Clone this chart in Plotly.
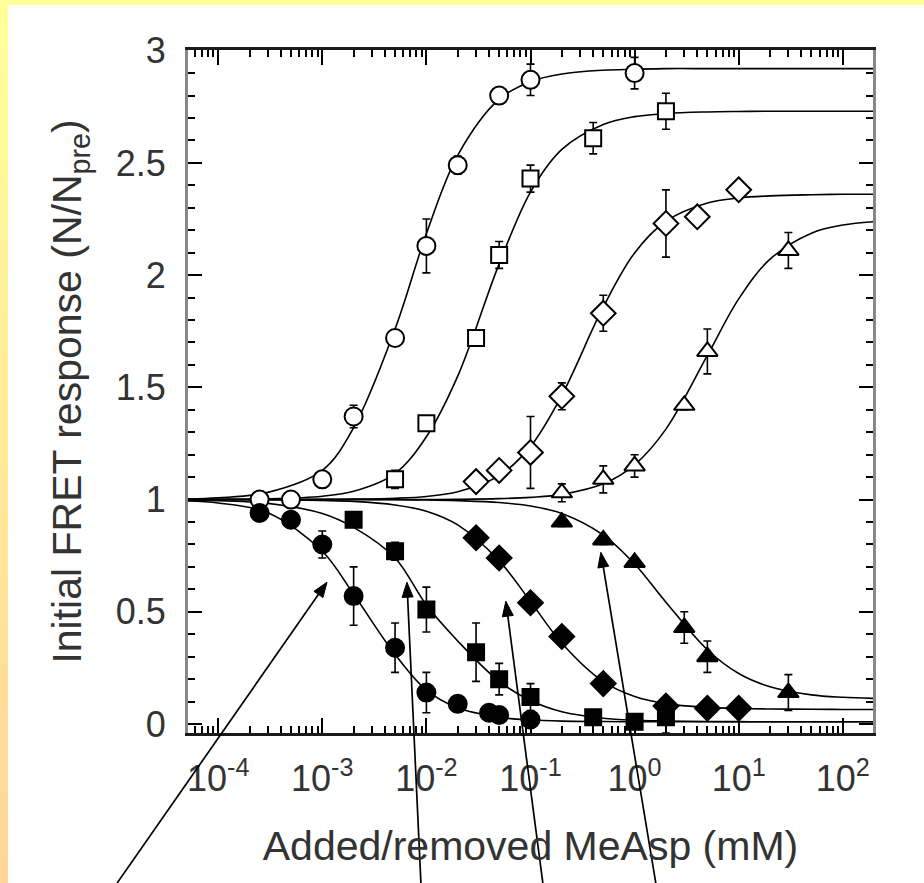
import math
import plotly.graph_objects as go

# ---------------- data ----------------
# open circles
OC_X = [2.5e-4, 5e-4, 1e-3, 2e-3, 5e-3, 1e-2, 2e-2, 5e-2, 0.1, 1.0]
OC_Y = [1.00, 1.00, 1.09, 1.37, 1.72, 2.13, 2.49, 2.80, 2.87, 2.90]
OC_E = [0.02, 0.02, 0.03, 0.05, 0.03, 0.12, 0.04, 0.03, 0.07, 0.07]
# open squares
OS_X = [5e-3, 1e-2, 3e-2, 5e-2, 0.1, 0.4, 2.0]
OS_Y = [1.09, 1.34, 1.72, 2.09, 2.43, 2.61, 2.73]
OS_E = [0.04, 0.03, 0.03, 0.06, 0.06, 0.07, 0.08]
# open diamonds
OD_X = [3e-2, 5e-2, 0.1, 0.2, 0.5, 2.0, 4.0, 10.0]
OD_Y = [1.08, 1.13, 1.21, 1.46, 1.83, 2.23, 2.26, 2.38]
OD_E = [0.03, 0.03, 0.16, 0.06, 0.08, 0.15, 0.02, 0.02]
# open triangles
OT_X = [0.2, 0.5, 1.0, 3.0, 5.0, 30.0]
OT_Y = [1.03, 1.09, 1.15, 1.42, 1.66, 2.11]
OT_E = [0.04, 0.06, 0.05, 0.02, 0.10, 0.08]
# filled circles
FC_X = [2.5e-4, 5e-4, 1e-3, 2e-3, 5e-3, 1e-2, 2e-2, 4e-2, 5e-2, 0.1]
FC_Y = [0.94, 0.91, 0.80, 0.57, 0.34, 0.14, 0.09, 0.05, 0.04, 0.02]
FC_E = [0.03, 0.03, 0.06, 0.13, 0.11, 0.09, 0.02, 0.02, 0.02, 0.02]
# filled squares
FS_X = [2e-3, 5e-3, 1e-2, 3e-2, 5e-2, 0.1, 0.4, 1.0, 2.0]
FS_Y = [0.91, 0.77, 0.51, 0.32, 0.20, 0.12, 0.03, 0.01, 0.03]
FS_E = [0.02, 0.04, 0.10, 0.13, 0.07, 0.06, 0.02, 0.02, 0.07]
# filled diamonds
FD_X = [3e-2, 5e-2, 0.1, 0.2, 0.5, 2.0, 5.0, 10.0]
FD_Y = [0.83, 0.74, 0.54, 0.39, 0.18, 0.08, 0.07, 0.07]
FD_E = [0.02, 0.02, 0.02, 0.03, 0.03, 0.02, 0.02, 0.02]
# filled triangles
FT_X = [0.2, 0.5, 1.0, 3.0, 5.0, 30.0]
FT_Y = [0.90, 0.82, 0.72, 0.43, 0.30, 0.14]
FT_E = [0.02, 0.02, 0.02, 0.07, 0.07, 0.08]

# fitted curves, read along each line of the picture
CURVE_X = [5e-5, 1e-4, 3e-4, 1e-3, 2e-3, 5e-3, 1e-2, 2e-2, 5e-2, 0.1,
           0.2, 0.5, 1.0, 2.0, 5.0, 10.0, 20.0, 50.0, 100.0, 200.0]
FIT_OC = [1.003, 1.008, 1.032, 1.13, 1.32, 1.76, 2.185, 2.534, 2.784, 2.862,
          2.896, 2.913, 2.917, 2.92, 2.92, 2.92, 2.92, 2.92, 2.92, 2.92]
FIT_OS = [1.0, 1.001, 1.003, 1.015, 1.037, 1.116, 1.28, 1.55, 2.05, 2.37,
          2.56, 2.671, 2.706, 2.72, 2.727, 2.729, 2.73, 2.73, 2.73, 2.73]
FIT_OD = [1.0, 1.0, 1.0, 1.001, 1.002, 1.006, 1.014, 1.035, 1.107, 1.237,
          1.465, 1.858, 2.099, 2.24, 2.321, 2.344, 2.353, 2.358, 2.36, 2.36]
FIT_OT = [1.0, 1.0, 1.0, 1.0, 1.0, 1.0, 1.0, 1.001, 1.004, 1.01,
          1.023, 1.07, 1.155, 1.314, 1.642, 1.894, 2.071, 2.187, 2.223, 2.238]
FIT_FC = [0.994, 0.985, 0.941, 0.77, 0.578, 0.31, 0.151, 0.072, 0.03, 0.018,
          0.013, 0.011, 0.01, 0.01, 0.01, 0.01, 0.01, 0.01, 0.01, 0.01]
FIT_FS = [0.997, 0.995, 0.983, 0.938, 0.876, 0.74, 0.53, 0.37, 0.19, 0.105,
          0.055, 0.026, 0.017, 0.0135, 0.011, 0.0105, 0.01, 0.01, 0.01, 0.01]
FIT_FD = [1.0, 1.0, 0.999, 0.996, 0.992, 0.976, 0.948, 0.887, 0.727, 0.546,
          0.36, 0.189, 0.123, 0.091, 0.074, 0.069, 0.067, 0.066, 0.065, 0.065]
FIT_FT = [1.0, 1.0, 1.0, 1.0, 1.0, 0.999, 0.998, 0.995, 0.987, 0.971,
          0.938, 0.842, 0.713, 0.543, 0.331, 0.225, 0.166, 0.13, 0.119, 0.114]

X_TICKS = [1e-4, 1e-3, 1e-2, 1e-1, 1e0, 1e1, 1e2]
X_TICKTEXT = ["10<sup>-4</sup>", "10<sup>-3</sup>", "10<sup>-2</sup>", "10<sup>-1</sup>",
              "10<sup>0</sup>", "10<sup>1</sup>", "10<sup>2</sup>"]
Y_TICKS = [0, 0.5, 1, 1.5, 2, 2.5, 3]
Y_TICKTEXT = ["0", "0.5", "1", "1.5", "2", "2.5", "3"]

# arrows: tip (data) and tail offset (pixels)
ARROW_X = [1.11e-3, 6.5e-3, 0.058, 0.474]
ARROW_Y = [0.632, 0.632, 0.547, 0.765]
ARROW_DX = [-210, 14, 37, 55]
ARROW_DY = [301, 301, 282, 331]

# ---------------- figure ----------------
W, H = 924, 883
ML, MR, MT, MB = 188, 51, 50, 150
PW, PH = W - ML - MR, H - MT - MB
XR = [-4.29, 2.29]
YR = [-0.04, 3.003]
FONT = "Liberation Sans, Arial, Helvetica, sans-serif"


def px2paper_x(px):
    return (px - ML) / PW


def py2paper_y(py):
    return (H - MB - py) / PH


def data2px(x, y):
    px = ML + (math.log10(x) - XR[0]) / (XR[1] - XR[0]) * PW
    py = MT + (YR[1] - y) / (YR[1] - YR[0]) * PH
    return px, py


fig = go.Figure()

for fy in [FIT_OC, FIT_OS, FIT_OD, FIT_OT, FIT_FC, FIT_FS, FIT_FD, FIT_FT]:
    fig.add_trace(go.Scatter(
        x=CURVE_X, y=fy, mode="lines",
        line=dict(color="black", width=1.6, shape="spline", smoothing=1.0),
        hoverinfo="skip", showlegend=False))

series = [
    (OC_X, OC_Y, OC_E, "circle", 18, "white"),
    (OS_X, OS_Y, OS_E, "square", 16, "white"),
    (OD_X, OD_Y, OD_E, "diamond", 19, "white"),
    (OT_X, OT_Y, OT_E, "triangle-up", 18, "white"),
    (FC_X, FC_Y, FC_E, "circle", 18, "black"),
    (FS_X, FS_Y, FS_E, "square", 16, "black"),
    (FD_X, FD_Y, FD_E, "diamond", 19, "black"),
    (FT_X, FT_Y, FT_E, "triangle-up", 18, "black"),
]
for xs, ys, es, sym, sz, fill in series:
    fig.add_trace(go.Scatter(
        x=xs, y=ys, mode="markers",
        error_y=dict(type="data", array=es, color="black", thickness=1.6, width=4),
        marker=dict(symbol=sym, size=sz, color=fill,
                    line=dict(color="black", width=2)),
        showlegend=False))

# background: yellow slide with a white panel and an orange-graded left strip
shapes = [dict(type="rect", xref="paper", yref="paper", layer="below",
               x0=px2paper_x(8), x1=px2paper_x(W + 5),
               y0=py2paper_y(H + 5), y1=py2paper_y(5),
               fillcolor="white", line=dict(width=0))]
NB = 40
c0 = (255, 255, 153)
c1 = (255, 214, 152)
for i in range(NB):
    t = i / (NB - 1)
    col = tuple(int(round(c0[k] + (c1[k] - c0[k]) * t)) for k in range(3))
    shapes.append(dict(type="rect", xref="paper", yref="paper", layer="below",
                       x0=px2paper_x(-2), x1=px2paper_x(8),
                       y0=py2paper_y(5 + (H - 5) * (i + 1) / NB + 1),
                       y1=py2paper_y(5 + (H - 5) * i / NB),
                       fillcolor="rgb(%d,%d,%d)" % col, line=dict(width=0)))

# arrows drawn as a line plus a filled head (paper coordinates)
HEAD_LEN, HEAD_HALF = 15.0, 5.5
for ax_, ay_, dx, dy in zip(ARROW_X, ARROW_Y, ARROW_DX, ARROW_DY):
    tx, ty = data2px(ax_, ay_)
    sx, sy = tx + dx, ty + dy
    L = math.hypot(dx, dy)
    ux, uy = -dx / L, -dy / L          # unit vector tail -> tip
    bx, by = tx - ux * HEAD_LEN, ty - uy * HEAD_LEN
    nx, ny = -uy, ux
    shapes.append(dict(type="line", xref="paper", yref="paper", layer="above",
                       x0=px2paper_x(sx), y0=py2paper_y(sy),
                       x1=px2paper_x(bx + ux * 2), y1=py2paper_y(by + uy * 2),
                       line=dict(color="black", width=1.7)))
    p1 = (px2paper_x(tx), py2paper_y(ty))
    p2 = (px2paper_x(bx + nx * HEAD_HALF), py2paper_y(by + ny * HEAD_HALF))
    p3 = (px2paper_x(bx - nx * HEAD_HALF), py2paper_y(by - ny * HEAD_HALF))
    path = "M %.5f,%.5f L %.5f,%.5f L %.5f,%.5f Z" % (p1 + p2 + p3)
    shapes.append(dict(type="path", xref="paper", yref="paper", layer="above",
                       path=path, fillcolor="black", line=dict(color="black", width=1)))

minor_x = [m * 10.0 ** e for e in range(-5, 3) for m in range(2, 10)]

fig.update_layout(
    width=W, height=H,
    margin=dict(l=ML, r=MR, t=MT, b=MB, pad=0),
    paper_bgcolor="#FFFF99", plot_bgcolor="white",
    font=dict(family=FONT, color="#333333"),
    shapes=shapes, showlegend=False,
    xaxis=dict(
        type="log", range=XR,
        tickmode="array", tickvals=X_TICKS, ticktext=X_TICKTEXT,
        ticks="inside", ticklen=15, tickwidth=2, tickcolor="black",
        minor=dict(tickmode="array", tickvals=minor_x, ticks="inside",
                   ticklen=7, tickwidth=1.5, tickcolor="black", showgrid=False),
        showline=True, linecolor="#1a1a1a", linewidth=3, mirror="ticks",
        showgrid=False, zeroline=False,
        tickfont=dict(family=FONT, size=36, color="#333333"),
        ticklabelstandoff=12,
        title=dict(text="Added/removed MeAsp (mM)", standoff=34,
                   font=dict(family=FONT, size=41, color="#333333")),
    ),
    yaxis=dict(
        range=YR,
        tickmode="array", tickvals=Y_TICKS, ticktext=Y_TICKTEXT,
        ticks="inside", ticklen=14, tickwidth=2, tickcolor="black",
        minor=dict(dtick=0.1, ticks="inside", ticklen=7, tickwidth=1.5,
                   tickcolor="black", showgrid=False),
        showline=True, linecolor="#888888", linewidth=3, mirror="ticks",
        showgrid=False, zeroline=False,
        tickfont=dict(family=FONT, size=36, color="#333333"),
        ticklabelstandoff=12,
        title=dict(text="Initial FRET response (N/N<sub>pre</sub>)", standoff=22,
                   font=dict(family=FONT, size=41, color="#333333")),
    ),
)

fig.write_html("out.html")
